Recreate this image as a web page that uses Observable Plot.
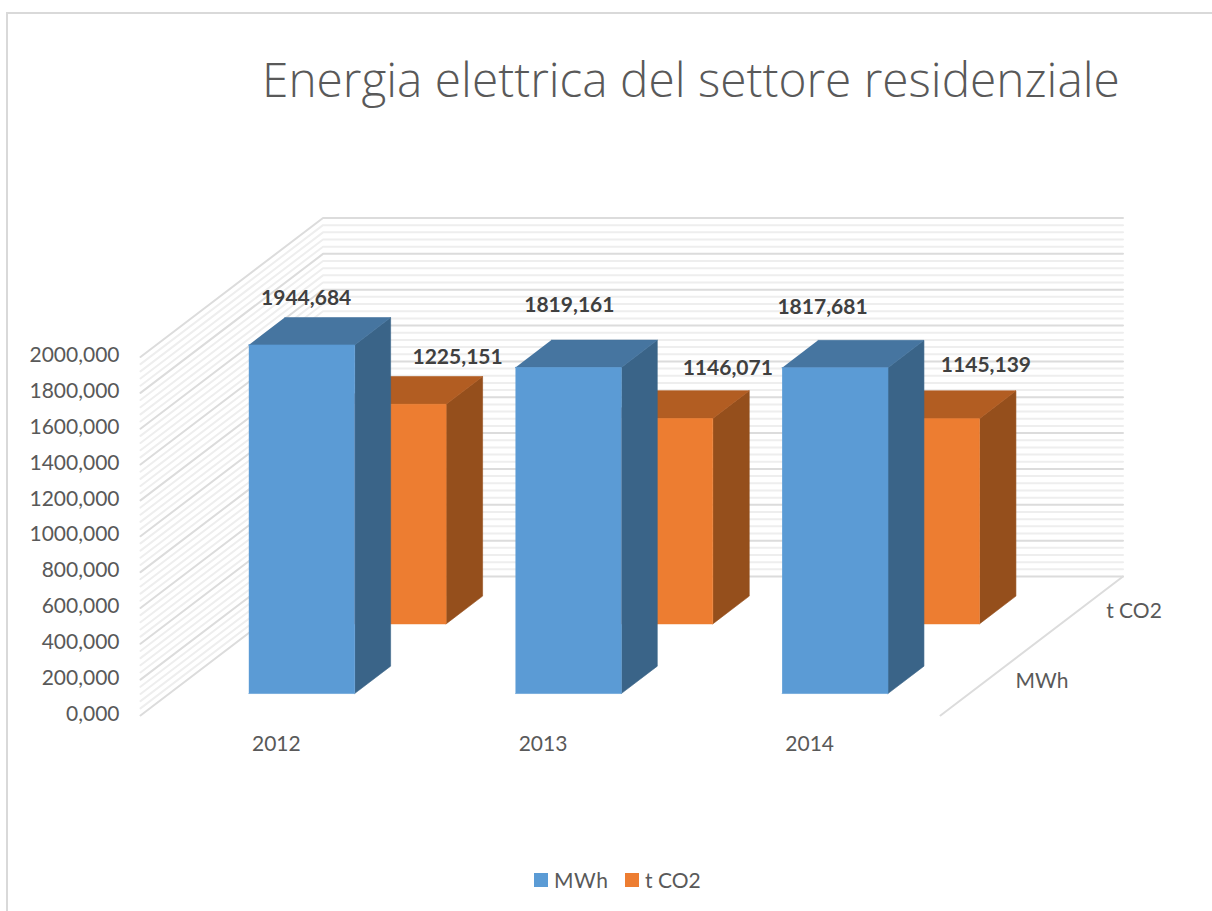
<!DOCTYPE html>
<html>
<head>
<meta charset="utf-8">
<script src="https://cdn.jsdelivr.net/npm/d3@7"></script>
<script src="https://cdn.jsdelivr.net/npm/@observablehq/plot@0.6"></script>
<style>
html,body{margin:0;padding:0;background:#fff;overflow:hidden}
#page{position:relative;width:1212px;height:911px;overflow:hidden}
#frame{position:absolute;left:6px;top:12px;right:-4px;bottom:-4px;border:2px solid #d9d9d9;box-sizing:border-box}
#title{position:relative;height:190px;box-sizing:border-box;padding:47px 0 0 262px;font:300 47.8px "Open Sans",sans-serif;color:#595959;white-space:nowrap;line-height:64px}
#legend{position:relative;height:61px;font:21px Lato,sans-serif;color:#595959}
#legend span{position:absolute;top:18px;line-height:24px}
#legend i{position:absolute;top:23px;width:14px;height:14px}
#chart{position:relative;height:660px}
svg{display:block}
</style>
</head>
<body>
<div id="page">
<div id="frame"></div>
<div id="title">Energia elettrica del settore residenziale</div>
<div id="chart"></div>
<div id="legend"></div>
</div>
<script>
const years = ["2012", "2013", "2014"];
const mwh = [1944.684, 1819.161, 1817.681];
const tco2 = [1225.151, 1146.071, 1145.139];
const seriesNames = ["MWh", "t CO2"];
const yTicks = [0, 200, 400, 600, 800, 1000, 1200, 1400, 1600, 1800, 2000];
const minorStep = 40;

// Oblique 3D: depth d (0 front, 1 back wall) shifts a point in data units.
const depthX = 182.5 / (800 / 3);
const depthY = 139 / (358.5 / 2000);
const px = (x, d) => x + d * depthX;
const py = (v, d) => v + d * depthY;

const series = [
  {name: "t CO2", values: tco2, d0: 0.659, d1: 0.859, front: "#ED7D31", top: "#B25D22", side: "#954F1C",
   off: [[63.5, -47], [67, -50], [58.5, -53]]},
  {name: "MWh", values: mwh, d0: 0.158, d1: 0.355, front: "#5B9BD5", top: "#4675A0", side: "#3A6488",
   off: [[3.5, -47], [0, -62], [-13.5, -60]]}
];

const fmt = v => v.toFixed(3).replace(".", ",");

// Gridlines on left wall and back wall
const grid = [];
for (const v of d3.range(0, 2001, minorStep)) {
  const major = yTicks.includes(v);
  const path = [[0, 0], [0, 1], [3, 1]];
  for (const [x, d] of path) grid.push({x: px(x, d), y: py(v, d), v, major});
}
const floorEdge = [[3, 1], [3, 0]].map(([x, d]) => ({x: px(x, d), y: py(0, d)}));

const barW = 0.397, gap = 0.298;
function faces(s, kind) {
  const out = [];
  s.values.forEach((v, i) => {
    const a = i + gap, b = a + barW, d0 = s.d0, d1 = s.d1;
    const corners = {
      front: [[a, 0, d0], [b, 0, d0], [b, v, d0], [a, v, d0]],
      top: [[a, v, d0], [b, v, d0], [b, v, d1], [a, v, d1]],
      side: [[b, 0, d0], [b, 0, d1], [b, v, d1], [b, v, d0]]
    }[kind];
    for (const [x, y, d] of corners) out.push({x: px(x, d), y: py(y, d), id: i});
  });
  return out;
}

const barMarks = [];
for (const s of series) {
  for (const kind of ["side", "top", "front"]) {
    barMarks.push(Plot.line(faces(s, kind), {x: "x", y: "y", z: "id", fill: s[kind], stroke: s[kind], strokeWidth: 0.6}));
  }
}
const labelMarks = [];
for (const s of series) {
  s.values.forEach((v, i) => {
    labelMarks.push(Plot.text([{x: px(i + 0.5, s.d0), y: py(v, s.d0), t: fmt(v)}], {
      x: "x", y: "y", text: "t", dx: s.off[i][0], dy: s.off[i][1],
      fontSize: 21, fontWeight: 700, fill: "#404040"
    }));
  });
}

const chart = Plot.plot({
  width: 1212,
  height: 660,
  marginLeft: 140, marginRight: 0, marginTop: 0, marginBottom: 0,
  style: {background: "transparent", fontFamily: "Lato, sans-serif"},
  x: {domain: [0, 3], range: [140, 940], axis: null},
  y: {domain: [0, 2000], range: [525, 166.5], axis: null},
  marks: [
    Plot.line(grid.filter(g => !g.major), {x: "x", y: "y", z: "v", stroke: "#eeeeee", strokeWidth: 2}),
    Plot.line(grid.filter(g => g.major), {x: "x", y: "y", z: "v", stroke: "#dcdcdc", strokeWidth: 2}),
    Plot.line(floorEdge, {x: "x", y: "y", stroke: "#dcdcdc", strokeWidth: 2}),
    ...barMarks,
    ...labelMarks,
    Plot.axisY({anchor: "left", ticks: yTicks, tickSize: 0, tickPadding: 21, tickFormat: fmt, fontSize: 21, fill: "#595959", label: null, dy: -1.5}),
    Plot.text(years.map((t, i) => ({x: i + 0.5, t})), {x: "x", y: () => 0, text: "t", dy: 29, dx: 2.5, fontSize: 21, fill: "#595959"}),
    Plot.text(seriesNames.map((t, i) => ({x: px(3, i ? 0.759 : 0.255), y: py(0, i ? 0.759 : 0.255), t, off: i})), {
      x: "x", y: "y", text: "t", dx: 55, dy: 1, fontSize: 21, fill: "#595959"
    })
  ]
});
document.getElementById("chart").appendChild(chart);

const legend = document.getElementById("legend");
[[seriesNames[0], "#5B9BD5", 534, 0.6], [seriesNames[1], "#ED7D31", 625, 0]].forEach(([name, color, left, spacing]) => {
  const sw = document.createElement("i");
  sw.style.left = left + "px";
  sw.style.background = color;
  const tx = document.createElement("span");
  tx.style.left = (left + 20) + "px";
  tx.style.letterSpacing = spacing + "px";
  tx.textContent = name;
  legend.append(sw, tx);
});
</script>
</body>
</html>
